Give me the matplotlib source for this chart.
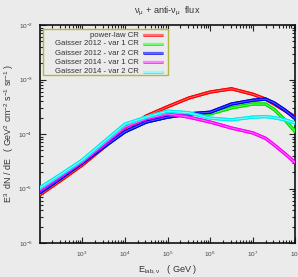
import matplotlib
matplotlib.use("Agg")
import matplotlib.pyplot as plt
import matplotlib.patheffects as pe
from matplotlib.patches import Rectangle
import numpy as np
from matplotlib.ticker import FixedLocator, LogLocator, NullFormatter, FuncFormatter

plt.rcParams["font.family"] = ["Liberation Sans", "DejaVu Sans"]
plt.rcParams["mathtext.fontset"] = "custom"
plt.rcParams["mathtext.rm"] = "Liberation Sans"
plt.rcParams["mathtext.it"] = "Liberation Sans:italic"
plt.rcParams["mathtext.bf"] = "Liberation Sans:bold"

# log10 of energy (GeV) sample points
log_e = [2.0, 2.5, 3.0, 3.5, 4.0, 4.5, 5.0, 5.5, 6.0, 6.5, 7.0, 7.3, 7.5, 7.75, 8.0]

# log10 of E^3 dN/dE for each series
red_log     = [-5.12, -4.85, -4.57, -4.25, -3.93, -3.67, -3.50, -3.34, -3.23, -3.17, -3.27, -3.36, -3.45, -3.57, -3.69]
green_log   = [-5.08, -4.81, -4.53, -4.24, -3.96, -3.78, -3.69, -3.64, -3.63, -3.52, -3.45, -3.45, -3.55, -3.74, -3.96]
blue_log    = [-5.08, -4.81, -4.53, -4.24, -3.96, -3.78, -3.69, -3.63, -3.60, -3.45, -3.38, -3.36, -3.43, -3.56, -3.72]
magenta_log = [-5.03, -4.77, -4.51, -4.19, -3.87, -3.72, -3.63, -3.69, -3.78, -3.89, -3.98, -4.08, -4.20, -4.36, -4.53]
cyan_log    = [-4.99, -4.74, -4.48, -4.15, -3.82, -3.69, -3.58, -3.61, -3.71, -3.74, -3.69, -3.68, -3.70, -3.74, -3.80]

labels = ["power-law CR", "Gaisser 2012 - var 1 CR", "Gaisser 2012 - var 2 CR",
          "Gaisser 2014 - var 1 CR", "Gaisser 2014 - var 2 CR"]
x_tick_exps = [3, 4, 5, 6, 7, 8]
y_tick_exps = [-6, -5, -4, -3, -2]

colors = ["#ff0000", "#00e000", "#0000ee", "#ff00ff", "#00eeee"]
inner = ["#ff7070", "#70ff70", "#6060ff", "#ff80ff", "#90ffff"]
series = [red_log, green_log, blue_log, magenta_log, cyan_log]
order = [1, 0, 2, 3, 4]  # draw order (green beneath blue)

bg = "#ebebeb"
fig = plt.figure(figsize=(2.98, 2.77), dpi=100, facecolor=bg)
ax = fig.add_axes([0.1326, 0.1227, 0.8590, 0.7870], facecolor=bg)

E = 10 ** np.array(log_e)
for i in order:
    y = 10 ** np.array(series[i])
    ax.plot(E, y, color=colors[i], lw=2.2, solid_capstyle="butt",
            path_effects=[pe.Stroke(linewidth=2.4, foreground=colors[i]),
                          pe.Normal(),
                          pe.Stroke(linewidth=0.6, foreground=inner[i])],
            zorder=3 + i)

ax.set_xscale("log")
ax.set_yscale("log")
ax.set_xlim(1e2, 1e8)
ax.set_ylim(1e-6, 1e-2)

ax.xaxis.set_major_locator(FixedLocator([10.0 ** e for e in x_tick_exps]))
ax.xaxis.set_major_formatter(FuncFormatter(lambda v, p: r"$10^{%d}$" % int(round(np.log10(v)))))
ax.xaxis.set_minor_locator(LogLocator(base=10, subs=np.arange(2, 10), numticks=20))
ax.xaxis.set_minor_formatter(NullFormatter())
ax.yaxis.set_major_locator(FixedLocator([10.0 ** e for e in y_tick_exps]))
ax.yaxis.set_major_formatter(FuncFormatter(lambda v, p: r"$10^{%d}$" % int(round(np.log10(v)))))
ax.yaxis.set_minor_locator(LogLocator(base=10, subs=np.arange(2, 10), numticks=20))
ax.yaxis.set_minor_formatter(NullFormatter())

ax.tick_params(which="both", direction="in", top=True, right=True, colors="#222222",
               labelcolor="#444444", labelsize=4.6, width=0.8)
ax.tick_params(which="major", length=4, pad=5)
ax.tick_params(which="minor", length=2)
for s in ax.spines.values():
    s.set_linewidth(1.2)
    s.set_color("#111111")

ax.set_title(r"$\mathregular{\nu_\mu}$ + anti-$\mathregular{\nu_\mu}$  flux", fontsize=6.6,
             color="#333333", pad=8)
ax.set_xlabel(r"E$_{\rm lab,\nu}$   ( GeV )", fontsize=6.6, color="#333333", labelpad=3)
ax.set_ylabel(r"E$^3$  dN / dE   ( GeV$^2$ cm$^{-2}$ s$^{-1}$ sr$^{-1}$ )", fontsize=6.4,
              color="#333333", labelpad=2)

# manual legend (right-aligned text, sample line to the right)
ax.add_patch(Rectangle((0.0137, 0.7706), 0.488, 0.211, transform=ax.transAxes,
                       facecolor=bg, edgecolor="#b5b540", lw=1.0, zorder=20))
row_y = [0.954, 0.913, 0.870, 0.829, 0.786]
for i in range(5):
    ax.text(0.389, row_y[i], labels[i], transform=ax.transAxes, ha="right", va="center",
            fontsize=5.6, color="#333333", zorder=21)
    ax.plot([0.404, 0.482], [row_y[i], row_y[i]], transform=ax.transAxes,
            color=inner[i], lw=1.6, zorder=21, solid_capstyle="butt",
            path_effects=[pe.Stroke(linewidth=1.8, foreground=colors[i]), pe.Normal()])

fig.savefig("out.png", dpi=100, facecolor=bg)
